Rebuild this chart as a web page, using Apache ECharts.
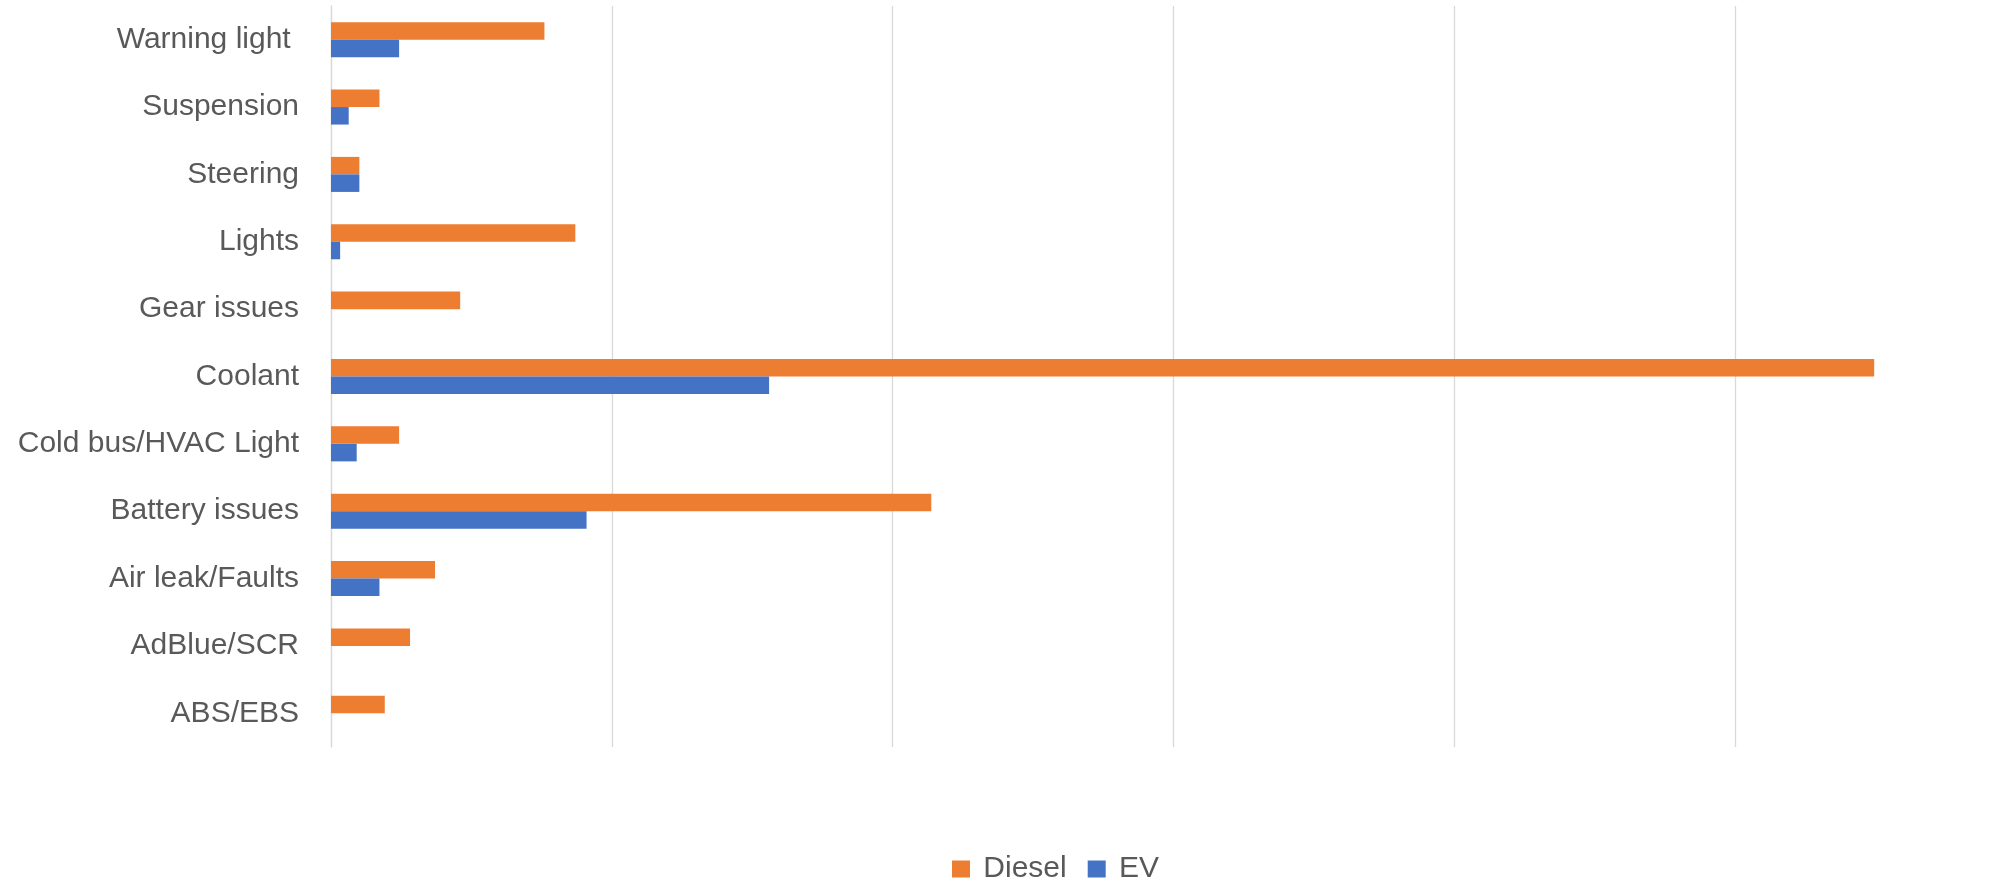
<!DOCTYPE html>
<html>
<head>
<meta charset="utf-8">
<script src="https://cdn.jsdelivr.net/npm/echarts@6/dist/echarts.min.js"></script>
<style>
    html, body { margin: 0; padding: 0; background: #fff; }
    #chart { width: 2016px; height: 882px; }
</style>
</head>
<body>
<div id="chart"></div>
<script>
// categories, top to bottom
var categories = ['Warning light ', 'Suspension', 'Steering', 'Lights', 'Gear issues', 'Coolant',
    'Cold bus/HVAC Light', 'Battery issues', 'Air leak/Faults', 'AdBlue/SCR', 'ABS/EBS'];
var dieselValues = [15.2, 3.45, 2.02, 17.4, 9.2, 109.9, 4.85, 42.75, 7.41, 5.63, 3.83];
var evValues = [4.85, 1.26, 2.02, 0.65, 0, 31.2, 1.83, 18.2, 3.45, 0, 0];
var xTicks = [0, 20, 40, 60, 80, 100, 120];

var labelFont = 'Liberation Sans';
var myChart = echarts.init(document.getElementById('chart'));
myChart.setOption({
    animation: false,
    textStyle: { fontFamily: labelFont },
    legend: {
        data: ['Diesel', 'EV'],
        left: 947,
        top: 849,
        itemWidth: 18,
        itemHeight: 17,
        itemGap: 21,
        icon: 'rect',
        formatter: ' {name}',
        textStyle: { color: '#595959', fontSize: 30, fontFamily: labelFont }
    },
    grid: {
        left: 331,
        top: 6,
        width: 1689,
        height: 741,
        containLabel: false
    },
    xAxis: {
        type: 'value',
        min: xTicks[0],
        max: xTicks[xTicks.length - 1],
        interval: 20,
        axisLabel: { show: false },
        axisTick: { show: false },
        axisLine: { show: false },
        splitLine: { show: true, showMaxLine: false, lineStyle: { color: '#d9d9d9', width: 1.3 } }
    },
    yAxis: {
        type: 'category',
        inverse: true,
        data: categories,
        axisTick: { show: false },
        axisLine: { show: true, lineStyle: { color: '#d9d9d9', width: 1.3 } },
        axisLabel: {
            margin: 32,
            color: '#595959',
            fontSize: 30,
            fontFamily: labelFont
        }
    },
    series: [
        {
            name: 'Diesel',
            type: 'bar',
            data: dieselValues,
            color: '#ED7D31',
            barGap: '0%',
            barCategoryGap: '48%'
        },
        {
            name: 'EV',
            type: 'bar',
            data: evValues,
            color: '#4472C4',
            barGap: '0%',
            barCategoryGap: '48%'
        }
    ]
});
</script>
</body>
</html>
